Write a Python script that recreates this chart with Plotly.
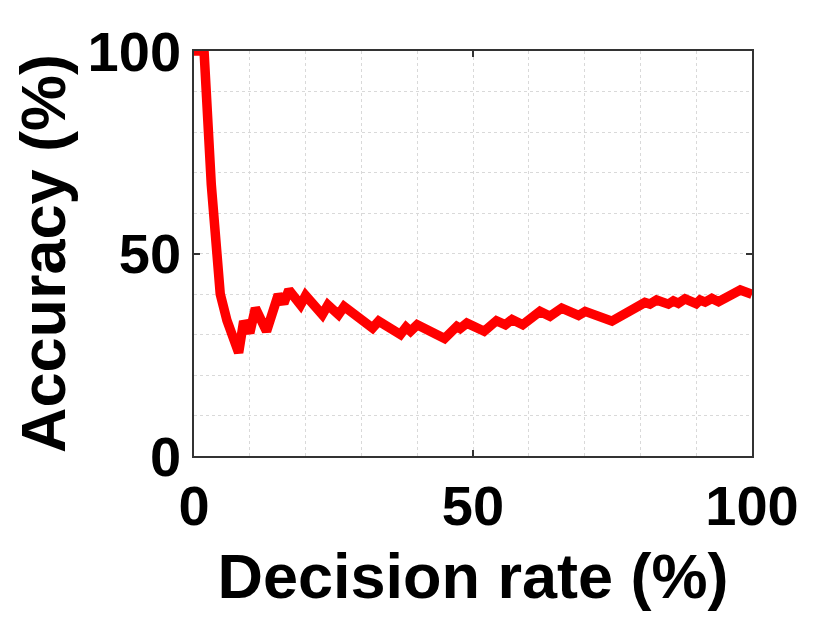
import plotly.graph_objects as go

decision_rate = [0, 1.8, 3.1, 3.9, 4.7, 5.9, 7.1, 8.0, 8.9, 10.0, 11.0, 13.0, 15.1, 16.1, 17.0,
                 19.1, 20.0, 23.0, 24.0, 25.9, 26.9, 32.0, 33.1, 37.0, 38.0, 38.8, 40.0, 44.9,
                 47.1, 47.7, 48.9, 52.0, 54.2, 55.8, 57.0, 58.9, 62.0, 63.8, 65.9, 68.9, 70.1,
                 74.9, 80.8, 81.7, 82.9, 85.0, 85.9, 86.8, 88.0, 90.0, 90.7, 91.6, 92.8, 94.0,
                 97.9, 100]
accuracy = [100, 100, 67, 50, 40, 33.5, 28.4, 25.5, 33.3, 30.4, 36.5, 30.8, 39.8, 37.7, 41,
            37.3, 39.6, 34.9, 37.3, 34.9, 36.9, 31.6, 33.3, 30, 31.8, 30.8, 32.4, 29,
            32, 31.5, 32.8, 30.8, 33.4, 32.4, 33.7, 32.4, 35.7, 34.5, 36.5, 34.7, 35.7,
            33.3, 37.9, 37.5, 38.5, 37.5, 38.3, 37.7, 38.8, 37.6, 38.5, 38, 38.9, 38.1,
            41, 39.9]
tick_vals = [0, 50, 100]

fig = go.Figure()
fig.add_trace(go.Scatter(x=decision_rate, y=accuracy, mode="lines",
                         line=dict(color="#ff0000", width=9.5), showlegend=False,
                         cliponaxis=False))

font_family = "Liberation Sans, Arial, sans-serif"
grid_color = "#d9d9d9"
axis_common = dict(
    range=[0, 100], tickvals=tick_vals, ticks="inside", ticklen=6, tickwidth=1.5,
    tickcolor="#333333", showline=True, linecolor="#333333", linewidth=1.5,
    mirror="ticks", showgrid=True, gridcolor=grid_color, griddash="dot", gridwidth=1,
    zeroline=False,
    minor=dict(dtick=10, showgrid=True, gridcolor=grid_color, griddash="dot", gridwidth=1, ticks=""),
    tickfont=dict(family=font_family, size=56, color="black", weight="bold"),
)

fig.update_xaxes(**axis_common,
                 title=dict(text="Decision rate (%)", standoff=18,
                            font=dict(family=font_family, size=63, color="black", weight="bold")))
fig.update_yaxes(**axis_common,
                 title=dict(text="Accuracy (%)", standoff=2,
                            font=dict(family=font_family, size=63, color="black", weight="bold")))

fig.update_layout(
    width=830, height=624,
    margin=dict(l=185.5, r=86, t=38, b=175.5),
    plot_bgcolor="white", paper_bgcolor="white",
)

fig.write_html("out.html")
